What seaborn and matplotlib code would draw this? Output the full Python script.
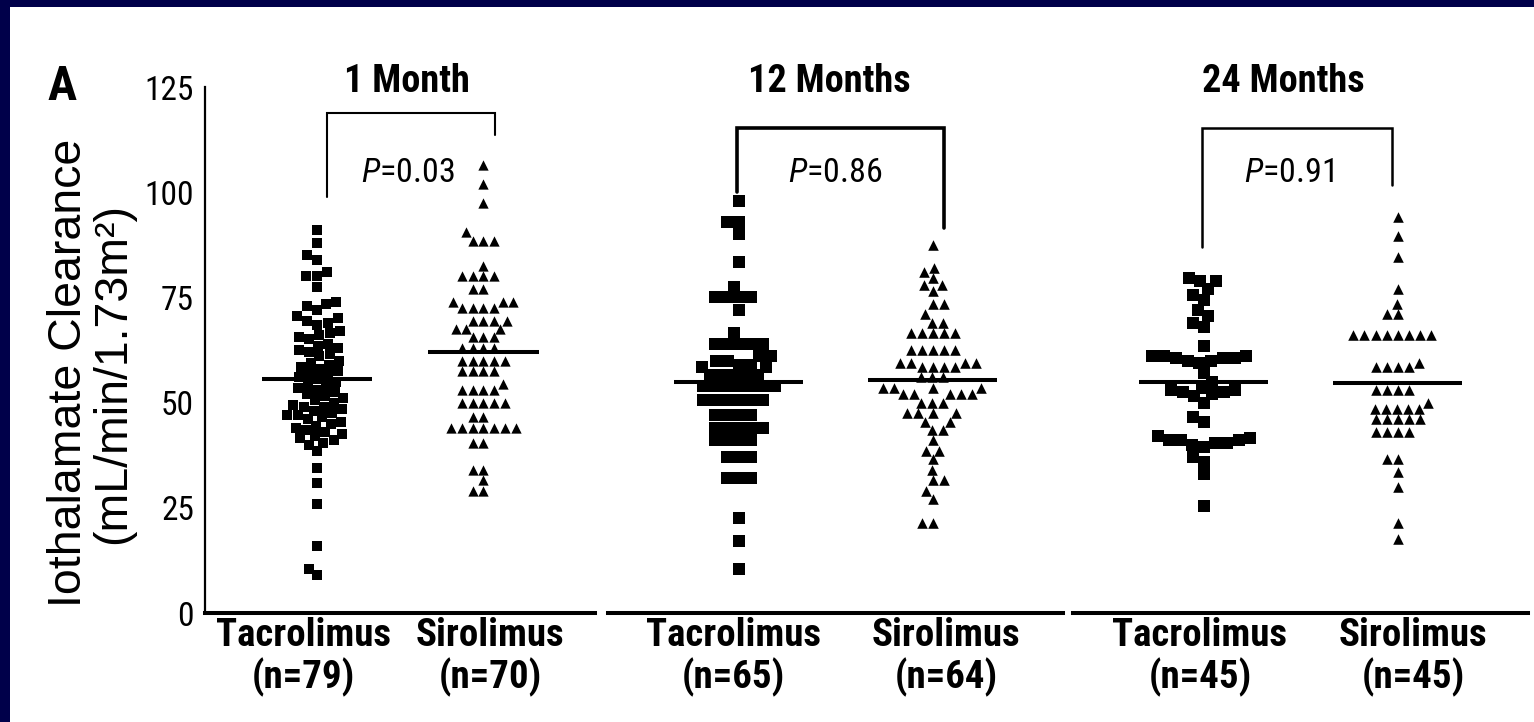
import warnings
import numpy as np
import pandas as pd
import matplotlib
matplotlib.use("Agg")
import matplotlib.pyplot as plt
from matplotlib.patches import Rectangle
import seaborn as sns

warnings.filterwarnings("ignore")

# ---- data -------------------------------------------------------------
timepoints = ["1 Month", "12 Months", "24 Months"]
groups = ["Tacrolimus", "Sirolimus"]
group_n = [[79, 70], [65, 64], [45, 45]]
p_values = ["0.03", "0.86", "0.91"]

tac_1m = [91, 88, 85, 84, 81, 80, 80, 77.5, 74, 73.5, 73, 72,
          70.5, 70, 69.5, 69, 68.5,
          67, 66.5, 66, 65.5, 65,
          64, 63.5, 63, 62.5, 62, 61.5, 61,
          60, 59.5, 59, 58.5, 58, 57.5,
          57, 56.5, 56, 55.5, 55,
          54.5, 54, 53.5, 53, 52.5, 52, 51.5, 51, 50.5, 50,
          49.5, 49, 49, 48.5, 48, 47.5, 47, 47, 46.5, 46, 45.5, 45,
          44.5, 44, 43.5, 43, 42.5, 42, 41.5, 41, 40.5, 40,
          38.5, 34.5, 31, 26, 16, 10.5, 9]
siro_1m = [106.5, 102, 97.5, 90.5,
           88.5, 88.5, 88.5,
           82.5,
           80, 80, 80, 80,
           77, 77,
           74, 74, 74,
           72.5, 72.5, 72.5, 72.5,
           69.5, 69.5, 69.5, 69.5,
           67.5, 67.5, 67.5,
           65.5, 65.5, 65.5,
           63, 63, 63, 63,
           60, 60, 60, 60, 60,
           57.5, 57.5, 57.5, 57.5,
           54.5,
           53, 53, 53, 53,
           50, 50, 50, 50, 50,
           46.5, 46.5,
           44, 44, 44, 44, 44, 44, 44,
           40.5, 40.5,
           34, 34,
           31.5,
           29, 29]
tac_12m = [98, 93, 93, 90, 83.5, 77.5, 75, 75, 75, 75, 72, 66.5,
           64, 64, 64, 64, 64,
           61, 61, 60, 60, 59, 59, 58.5, 58.5,
           56.5, 56.5, 56.5, 56.5, 56.5,
           54, 54, 54, 54, 54, 54, 54,
           50.5, 50.5, 50.5, 50.5, 50.5, 50.5,
           47, 47, 47, 47,
           44, 44, 44, 44, 44,
           41, 41, 41, 41,
           37, 37, 37,
           32, 32, 32,
           22.5, 17, 10.5]
siro_12m = [87.5, 82, 81, 79.5, 78, 78, 76.5,
            73.5, 73.5,
            71,
            69, 69,
            66.5, 66.5, 66.5, 66.5, 66.5,
            62.5, 62.5, 62.5, 62.5, 62.5,
            59.5, 59.5, 59.5, 59.5,
            58.5, 58.5, 58.5, 58.5,
            56, 56, 56,
            53.5, 53.5, 53.5, 53.5,
            52, 52, 52, 52, 52,
            50, 50, 50,
            47.5, 47.5, 47.5, 47.5,
            45.5, 45.5,
            43.5, 43.5,
            41,
            38.5, 38.5,
            36.5,
            34,
            31.5, 31.5,
            29,
            27,
            21.5, 21.5]
tac_24m = [79.5, 79, 79, 77, 75.5, 74.5, 72, 70.5, 69, 68, 63.5,
           60.5, 61, 61, 61, 60.5, 60.5, 60, 60, 59.5, 57,
           55, 53.5, 53, 53, 52.5, 52.5, 52, 51.5, 50,
           46.5, 45.5,
           42, 41.5, 41, 41, 41, 40.5, 40.5, 40, 39.5,
           37, 36, 33, 25.5]
siro_24m = [94, 89.5, 84.5, 77, 73.5, 71, 71,
            66, 66, 66, 66, 66, 66, 66, 66,
            59.5, 58.5, 58.5, 58.5, 58.5,
            53, 53, 53, 53,
            50,
            48.5, 48.5, 48.5, 48.5, 48.5,
            46, 46, 46, 46, 46,
            43, 43, 43, 43,
            36.5, 36.5,
            33.5, 30, 21.5, 17.5]

series = [[tac_1m, siro_1m], [tac_12m, siro_12m], [tac_24m, siro_24m]]

# ---- styling ------------------------------------------------------------
sns.set_style("white")
NARROW = "Roboto Condensed"
REGULAR = "Liberation Sans"
plt.rcParams["font.family"] = [NARROW, "DejaVu Sans"]
plt.rcParams["mathtext.fontset"] = "custom"
plt.rcParams["mathtext.rm"] = NARROW
plt.rcParams["mathtext.it"] = NARROW + ":italic"
for key in ["text.color", "axes.labelcolor", "xtick.color", "ytick.color",
            "axes.edgecolor"]:
    plt.rcParams[key] = "black"

NAVY = "#00004a"
W, H = 1534, 722
fig = plt.figure(figsize=(W / 100, H / 100), dpi=100)
fig.patch.set_facecolor(NAVY)
fig.add_artist(Rectangle((10 / W, 0), 1 - 10 / W, 1 - 7 / H,
                         transform=fig.transFigure, facecolor="white",
                         edgecolor="none", zorder=-10))

# panel extents in pixels (left, right); shared vertical extent
panel_px = [(205, 595), (608, 1063), (1073, 1528)]
y_top_px, y_bot_px = 87, 613

markers = ["s", "^"]
marker_sizes = [[7.4, 7.4], [8.2, 7.6], [8.2, 7.6]]

# per panel: tick label positions, title x, p-text x, bracket (xl, xr, ytop, yl, yr, lw)
label_x = [(-0.08, 1.04), (-0.03, 1.07), (-0.02, 1.08)]
title_x = [0.54, 0.466, 0.41]
ptext_x = [0.545, 0.497, 0.44]
brackets = [(0.06, 1.07, 118.8, 98.9, 113.6, 1.5),
            (-0.01, 1.06, 115.3, 100.0, 91.5, 2.6),
            (-0.01, 0.97, 115.3, 87.0, 101.7, 1.8)]

for i, (x0, x1) in enumerate(panel_px):
    ax = fig.add_axes([x0 / W, (H - y_bot_px) / H, (x1 - x0) / W,
                       (y_bot_px - y_top_px) / H])
    ax.set_facecolor("none")
    frames = []
    for g, vals in zip(groups, series[i]):
        frames.append(pd.DataFrame({"group": g, "value": vals}))
    df = pd.concat(frames, ignore_index=True)

    for j, g in enumerate(groups):
        sns.swarmplot(data=df[df["group"] == g], x="group", y="value",
                      order=groups, marker=markers[j], color="black",
                      size=marker_sizes[i][j], linewidth=0, ax=ax, zorder=2)
        mean = np.mean(series[i][j])
        ax.hlines(mean, j - 0.333, j + 0.333, color="black", lw=2.9, zorder=3)

    ax.set_xlim(-0.675, 1.672)
    ax.set_ylim(0, 125)
    ax.set_xlabel("")
    ax.set_ylabel("")
    for s in ["top", "right"]:
        ax.spines[s].set_visible(False)
    ax.spines["bottom"].set_linewidth(2.9)
    ax.spines["bottom"].set_color("black")
    if i == 0:
        ax.spines["left"].set_linewidth(1.6)
        ax.spines["left"].set_color("black")
        ax.set_yticks([0, 25, 50, 75, 100, 125])
        ax.tick_params(axis="y", direction="out", length=5, width=1.5,
                       pad=3, labelsize=24, colors="black")
    else:
        ax.spines["left"].set_visible(False)
        ax.set_yticks([])

    labels = [f"{g}\n(n={n})" for g, n in zip(groups, group_n[i])]
    ax.set_xticks(list(label_x[i]), labels)
    ax.tick_params(axis="x", length=0, pad=3, labelsize=28)
    for t in ax.get_xticklabels():
        t.set_fontweight("bold")
        t.set_linespacing(1.1)

    ax.text(title_x[i], 123.8, timepoints[i], ha="center", va="baseline",
            fontsize=27.5, fontweight="bold", clip_on=False)
    ax.text(ptext_x[i], 102.4, f"$P$={p_values[i]}", ha="center",
            va="baseline", fontsize=24.5, clip_on=False)
    xl, xr, yt, yl, yr, lw = brackets[i]
    ax.plot([xl, xl, xr, xr], [yl, yt, yt, yr], color="black", lw=lw,
            clip_on=False, solid_joinstyle="miter", zorder=4)

fig.text(62 / W, (H - 100) / H, "A", ha="center", va="baseline",
         fontsize=35, fontweight="bold")
fig.text(91 / W, (H - 373) / H, "Iothalamate Clearance\n(mL/min/1.73m²)",
         rotation=90, ha="center", va="center", multialignment="center",
         fontsize=33.5, family=[REGULAR, "DejaVu Sans"], linespacing=0.98)

fig.savefig("out.png", dpi=100, facecolor=fig.get_facecolor())
